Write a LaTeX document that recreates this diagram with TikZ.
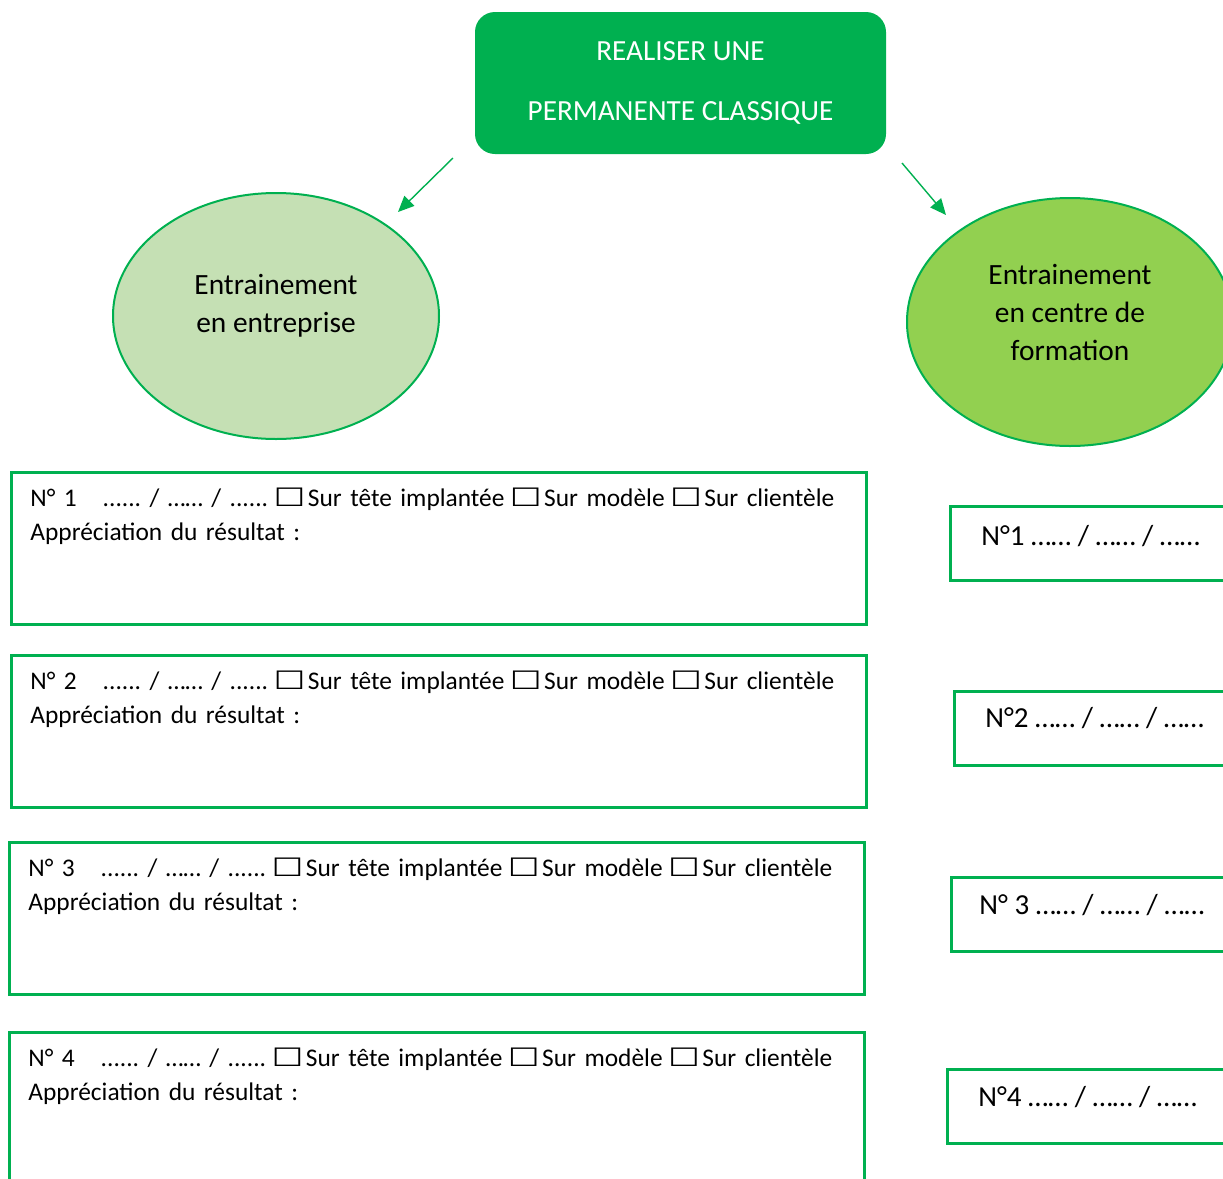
\documentclass[tikz,border=0pt]{standalone}
\usepackage{fontspec}
\setmainfont{Carlito}
\newfontfamily\boxglyph{DejaVu Sans}
\usetikzlibrary{positioning,arrows.meta,shapes.geometric}
\definecolor{vert}{HTML}{00B050}
\definecolor{vertclair}{HTML}{C5E0B4}
\definecolor{vertmoyen}{HTML}{92D050}
\frenchspacing
\def \cb {\kern-1.5pt\scalebox{1.4}[1]{\boxglyph\bfseries ☐}\kern1.2pt}
\def \dates {...... / …… / ......}
\def \choix {\cb Sur tête implantée \cb Sur modèle \cb Sur clientèle}
\def \appr {Appréciation du résultat :}

\begin{document}
\begin{tikzpicture}[x=0.5pt, y=-0.5pt, >={Triangle[length=8pt,width=7pt]},
titre/.style={fill=vert, rounded corners=10pt, minimum width=205.5pt, minimum height=71pt,
  text=white, align=center, font=\fontsize{14.6pt}{30pt}\selectfont},
oval/.style={ellipse, draw=vert, line width=1pt, inner sep=0pt},
ovaltext/.style={align=center, font=\fontsize{14.7pt}{19pt}\selectfont},
fiche/.style={draw=vert, line width=1.3pt, anchor=north west, minimum width=427.5pt, minimum height=76pt},
fichetext/.style={anchor=base west, inner sep=0pt, text width=425pt, align=left,
  font=\fontsize{12.7pt}{17pt}\selectfont},
seance/.style={draw=vert, line width=1.4pt, anchor=north west, minimum width=150pt, minimum height=37pt},
seancetext/.style={anchor=base west, inner sep=0pt, font=\fontsize{14.5pt}{17pt}\selectfont},
fleche/.style={->, draw=vert, line width=0.7pt}
]
\useasboundingbox (0,0) rectangle (1223,1179);
\clip (0,0) rectangle (1223,1179);

\node (top) [titre] at (680.5,83) {REALISER UNE\\PERMANENTE CLASSIQUE};

\node (entr) [oval, fill=vertclair, minimum width=163pt, minimum height=123pt] at (276,316) {};
\node (entrtxt) [ovaltext] at ([yshift=5pt]entr.center) {Entrainement\\en entreprise};
\node (cfa) [oval, fill=vertmoyen, minimum width=163pt, minimum height=124pt] at (1070,322) {};
\node (cfatxt) [ovaltext] at ([yshift=5pt]cfa.center) {Entrainement\\en centre de\\formation};

\coordinate (g1) at (453,158);
\coordinate (g2) at (398,212);
\coordinate (d1) at (902,163);
\coordinate (d2) at (946,215);
\draw[fleche] (g1) -- (g2);
\draw[fleche] (d1) -- (d2);

% fiches entreprise
\node (f1) [fiche] at (10,471) {};
\node (f2) [fiche] at (10,654) {};
\node (f3) [fiche] at (8,841) {};
\node (f4) [fiche] at (8,1031) {};
\node (f1txt) [fichetext] at ([shift={(10pt,-17.5pt)}]f1.north west) {N° 1\hspace{13pt}\dates{} \choix\\\appr};
\node (f2txt) [fichetext] at ([shift={(10pt,-17.5pt)}]f2.north west) {N° 2\hspace{13pt}\dates{} \choix\\\appr};
\node (f3txt) [fichetext] at ([shift={(10pt,-17.5pt)}]f3.north west) {N° 3\hspace{13pt}\dates{} \choix\\\appr};
\node (f4txt) [fichetext] at ([shift={(10pt,-17.5pt)}]f4.north west) {N° 4\hspace{13pt}\dates{} \choix\\\appr};

% seances centre
\node (s1) [seance] at (949,505) {};
\node (s2) [seance] at (953,690) {};
\node (s3) [seance] at (950,876) {};
\node (s4) [seance] at (946,1068) {};
\node (s1txt) [seancetext] at ([shift={(16pt,-20pt)}]s1.north west) {N°1 …… / …… / ……};
\node (s2txt) [seancetext] at ([shift={(16pt,-18.5pt)}]s2.north west) {N°2 …… / …… / ……};
\node (s3txt) [seancetext] at ([shift={(14.5pt,-19pt)}]s3.north west) {N° 3 …… / …… / ……};
\node (s4txt) [seancetext] at ([shift={(16pt,-19pt)}]s4.north west) {N°4 …… / …… / ……};

\end{tikzpicture}
\end{document}
